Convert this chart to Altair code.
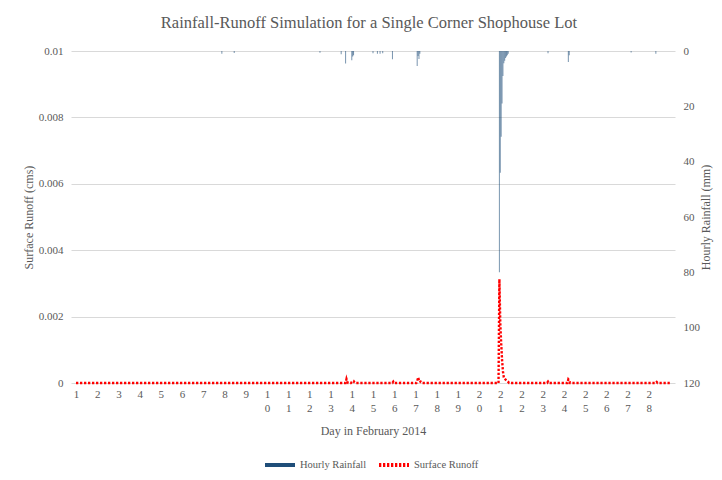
import altair as alt
import pandas as pd

# ---- data ----
series_names = ["Hourly Rainfall", "Surface Runoff"]
series_colors = ["#1F4E79", "#FF0000"]

days = list(range(1, 29))

rain_day = [7.875, 8.458, 12.5, 13.5, 13.708, 14.0, 14.042, 14.083, 15.0, 15.208,
            15.333, 15.458, 15.917, 17.083, 17.125, 17.167, 17.208, 20.958, 21.0, 21.042,
            21.083, 21.125, 21.167, 21.208, 21.25, 21.292, 21.333, 21.375, 23.25, 24.208,
            24.25, 27.167, 28.333]
rain_mm = [1.0, 0.7, 0.6, 1.2, 4.5, 3.3, 2.0, 1.5, 0.8, 1.0,
           1.0, 0.8, 3.0, 5.4, 1.8, 2.9, 1.0, 80, 44, 31,
           19, 9, 4.4, 3.5, 2.5, 2.0, 1.5, 1.0, 0.8, 4.0,
           1.5, 0.5, 1.0]

runoff_day = [1.0, 13.708, 13.75, 13.792, 13.833, 13.958, 14.0, 14.042, 14.083, 14.125,
              14.167, 15.917, 15.958, 16.0, 17.042, 17.083, 17.125, 17.167, 17.208, 17.25,
              17.292, 20.917, 20.958, 21.0, 21.042, 21.083, 21.125, 21.167, 21.208, 21.25,
              21.292, 21.333, 21.375, 21.417, 23.208, 23.25, 23.292, 24.167, 24.208, 24.25,
              24.292, 28.333, 28.375, 28.417, 29.0]
runoff_cms = [0, 0, 0.00012, 0.00003, 0, 0, 0.00003, 0.00006, 0.00006, 0.00002,
              0, 0, 0.00004, 0, 0, 0.00005, 0.00017, 0.00008, 0.00009, 0.00002,
              0, 0, 0.00313, 0.0018, 0.0012, 0.0007, 0.00035, 0.00017, 0.00013, 0.0001,
              0.00008, 0.00005, 0.00003, 0, 0, 0.00004, 0, 0, 0.00011, 0.00008,
              0, 0, 0.00003, 0, 0]

runoff_ticks = [0, 0.002, 0.004, 0.006, 0.008, 0.01]
rain_ticks = [0, 20, 40, 60, 80, 100, 120]

rain_df = pd.DataFrame({"t": rain_day, "mm": rain_mm, "series": series_names[0]})
runoff_df = pd.DataFrame({"t": runoff_day, "cms": runoff_cms, "series": series_names[1]})

FONT = "Liberation Serif, Times New Roman, DejaVu Serif, serif"
GRAY = "#595959"

x_enc = alt.X(
    "t:Q",
    scale=alt.Scale(domain=[1, 29], nice=False, zero=False),
    axis=alt.Axis(
        values=days,
        labelExpr="datum.value < 10 ? '' + datum.value : [floor(datum.value / 10) + '', (datum.value % 10) + '']",
        title="Day in February 2014",
        grid=False, domain=False, ticks=False,
        labelPadding=5, labelLineHeight=14, labelFontSize=11,
        titlePadding=12, titleFontSize=12,
    ),
)

legend = alt.Legend(
    title=None, orient="none", direction="horizontal", legendX=192, legendY=397,
    symbolType="stroke", symbolSize=900, symbolStrokeWidth=4, symbolOpacity=1,
    labelFont=FONT, labelFontSize=10.5, labelColor=GRAY, columnPadding=4, labelOffset=3,
)

color_enc = alt.Color("series:N", scale=alt.Scale(domain=series_names, range=series_colors), legend=legend)

rain = alt.Chart(rain_df).mark_bar(width=1, opacity=0.6).encode(
    x=x_enc,
    y=alt.Y(
        "mm:Q",
        scale=alt.Scale(domain=[0, 120], reverse=True, nice=False),
        axis=alt.Axis(orient="right", values=rain_ticks, title="Hourly Rainfall (mm)",
                      titleAngle=270, grid=False, domain=False, ticks=False,
                      labelPadding=8, titlePadding=13),
    ),
    color=color_enc,
)

runoff = alt.Chart(runoff_df).mark_line(strokeWidth=2.4).encode(
    x=x_enc,
    y=alt.Y(
        "cms:Q",
        scale=alt.Scale(domain=[0, 0.01], nice=False),
        axis=alt.Axis(orient="left", values=runoff_ticks, format="~g", title="Surface Runoff (cms)",
                      grid=True, gridColor="#D9D9D9", domain=False, ticks=False,
                      labelPadding=8, titlePadding=3),
    ),
    color=color_enc,
    strokeDash=alt.StrokeDash("series:N",
                              scale=alt.Scale(domain=series_names, range=[[1, 0], [2.3, 1.7]]),
                              legend=legend),
)

chart = alt.layer(rain, runoff).resolve_scale(y="independent").properties(
    width=604,
    height=332,
    autosize=alt.AutoSizeParams(type="none"),
    padding={"left": 63, "top": 43, "right": 39, "bottom": 95},
    title=alt.TitleParams(
        "Rainfall-Runoff Simulation for a Single Corner Shophouse Lot",
        font=FONT, fontSize=16.5, fontWeight="normal", color=GRAY, offset=14, dx=-4,
    ),
).configure_view(stroke=None).configure_axis(
    labelFont=FONT, titleFont=FONT, labelColor=GRAY, titleColor=GRAY,
    labelFontSize=11, titleFontSize=12, titleFontWeight="normal",
)

chart.save("out.html", embed_options={"renderer": "svg", "actions": False})
